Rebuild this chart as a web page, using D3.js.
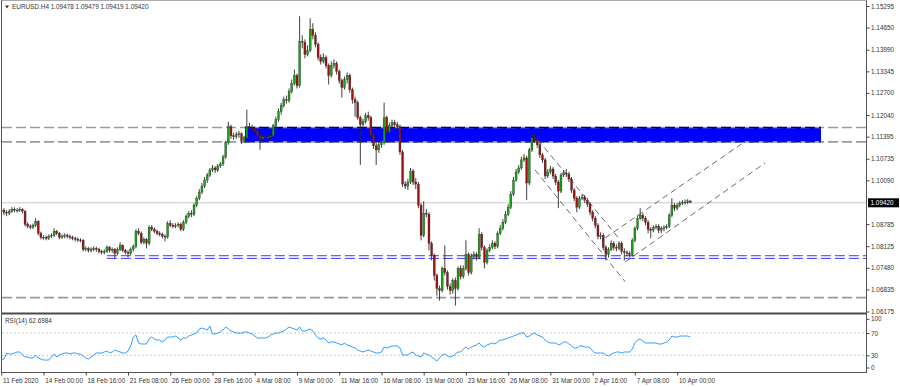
<!DOCTYPE html>
<html><head><meta charset="utf-8">
<script src="https://cdn.jsdelivr.net/npm/d3@7"></script>
<style>body{margin:0;background:#fff}svg{display:block}text{font-family:"Liberation Sans",Arial,sans-serif}</style>
</head><body><svg id="c" width="900" height="387"></svg>
<script>
const symbolTitle = "EURUSD.H4";
const lastOHLC = ["1.09478", "1.09479", "1.09419", "1.09420"];
const rsiTitle = "RSI(14) 62.6984";
const currentPrice = 1.09420;

const timeLabels = ["11 Feb 2020","14 Feb 00:00","18 Feb 16:00","21 Feb 08:00","26 Feb 00:00","28 Feb 16:00","4 Mar 08:00","9 Mar 00:00","11 Mar 16:00","16 Mar 08:00","19 Mar 00:00","23 Mar 16:00","26 Mar 08:00","31 Mar 00:00","2 Apr 16:00","7 Apr 08:00","10 Apr 00:00"];
const priceTicks = ["1.15295","1.14650","1.13990","1.13345","1.12700","1.12040","1.11395","1.10735","1.10090","1.08785","1.08125","1.07480","1.06835","1.06175"];
const rsiTicks = [100, 70, 30, 0];
const rsiLevels = [70, 30];

const opens = [1.0916,1.0920,
1.0914,1.0911,1.0917,1.0923,1.0920,1.0920,1.0923,1.0917,1.0878,1.0872,
1.0869,1.0875,1.0887,1.0851,1.0839,1.0839,1.0836,1.0842,1.0845,1.0857,
1.0851,1.0839,1.0842,1.0845,1.0842,1.0839,1.0836,1.0833,1.0831,1.0830,
1.0803,1.0806,1.0800,1.0803,1.0806,1.0803,1.0797,1.0794,1.0797,1.0809,
1.0800,1.0803,1.0791,1.0803,1.0815,1.0800,1.0794,1.0791,1.0803,1.0812,
1.0857,1.0851,1.0824,1.0833,1.0821,1.0869,1.0863,1.0857,1.0851,1.0848,
1.0842,1.0840,1.0881,1.0875,1.0872,1.0875,1.0878,1.0863,1.0884,1.0902,
1.0911,1.0908,1.0935,1.0956,1.0974,1.0992,1.1010,1.1025,1.1040,1.1046,
1.1040,1.1052,1.1058,1.1079,1.1121,1.1169,1.1142,1.1139,1.1145,1.1148,
1.1127,1.1136,1.1169,1.1166,1.1163,1.1157,1.1142,1.1133,1.1139,1.1136,
1.1139,1.1142,1.1172,1.1190,1.1214,1.1232,1.1250,1.1247,1.1274,1.1298,
1.1322,1.1292,1.1424,1.1421,1.1385,1.1397,1.1460,1.1442,1.1415,1.1376,
1.1364,1.1376,1.1352,1.1322,1.1352,1.1358,1.1334,1.1307,1.1286,1.1310,
1.1322,1.1280,1.1250,1.1241,1.1196,1.1175,1.1184,1.1202,1.1196,1.1145,
1.1112,1.1100,1.1115,1.1121,1.1196,1.1154,1.1172,1.1181,1.1175,1.1169,
1.1094,1.0998,1.0992,1.1004,1.1037,1.1004,1.0998,1.0935,1.0845,1.0911,
1.0908,1.0821,1.0785,1.0725,1.0686,1.0680,1.0746,1.0734,1.0692,1.0680,
1.0710,1.0686,1.0746,1.0722,1.0746,1.0788,1.0734,1.0782,1.0788,1.0779,
1.0848,1.0809,1.0764,1.0800,1.0809,1.0821,1.0812,1.0851,1.0866,1.0884,
1.0908,1.0929,1.0968,1.1010,1.1034,1.1046,1.1070,1.1076,1.1001,1.1100,
1.1136,1.1130,1.1115,1.1085,1.1070,1.1022,1.1034,1.1043,1.1022,1.1004,
1.0977,1.1025,1.1031,1.1028,1.1013,1.0980,1.0956,1.0929,1.0956,1.0959,
1.0950,1.0938,1.0914,1.0896,1.0875,1.0842,1.0845,1.0809,1.0788,1.0803,
1.0821,1.0809,1.0806,1.0821,1.0797,1.0794,1.0791,1.0788,1.0830,1.0866,
1.0896,1.0905,1.0896,1.0884,1.0863,1.0860,1.0869,1.0872,1.0860,1.0866,
1.0869,1.0872,1.0905,1.0935,1.0926,1.0935,1.0941,1.0944,1.0944,1.09478];

const closes = [1.0920,
1.0914,1.0911,1.0917,1.0923,1.0920,1.0920,1.0923,1.0917,1.0878,1.0872,
1.0869,1.0875,1.0887,1.0851,1.0839,1.0839,1.0836,1.0842,1.0845,1.0857,
1.0851,1.0839,1.0842,1.0845,1.0842,1.0839,1.0836,1.0833,1.0831,1.0830,
1.0803,1.0806,1.0800,1.0803,1.0806,1.0803,1.0797,1.0794,1.0797,1.0809,
1.0800,1.0803,1.0791,1.0803,1.0815,1.0800,1.0794,1.0791,1.0803,1.0812,
1.0857,1.0851,1.0824,1.0833,1.0821,1.0869,1.0863,1.0857,1.0851,1.0848,
1.0842,1.0840,1.0881,1.0875,1.0872,1.0875,1.0878,1.0863,1.0884,1.0902,
1.0911,1.0908,1.0935,1.0956,1.0974,1.0992,1.1010,1.1025,1.1040,1.1046,
1.1040,1.1052,1.1058,1.1079,1.1121,1.1169,1.1142,1.1139,1.1145,1.1148,
1.1127,1.1136,1.1169,1.1166,1.1163,1.1157,1.1142,1.1133,1.1139,1.1136,
1.1139,1.1142,1.1172,1.1190,1.1214,1.1232,1.1250,1.1247,1.1274,1.1298,
1.1322,1.1292,1.1424,1.1421,1.1385,1.1397,1.1460,1.1442,1.1415,1.1376,
1.1364,1.1376,1.1352,1.1322,1.1352,1.1358,1.1334,1.1307,1.1286,1.1310,
1.1322,1.1280,1.1250,1.1241,1.1196,1.1175,1.1184,1.1202,1.1196,1.1145,
1.1112,1.1100,1.1115,1.1121,1.1196,1.1154,1.1172,1.1181,1.1175,1.1169,
1.1094,1.0998,1.0992,1.1004,1.1037,1.1004,1.0998,1.0935,1.0845,1.0911,
1.0908,1.0821,1.0785,1.0725,1.0686,1.0680,1.0746,1.0734,1.0692,1.0680,
1.0710,1.0686,1.0746,1.0722,1.0746,1.0788,1.0734,1.0782,1.0788,1.0779,
1.0848,1.0809,1.0764,1.0800,1.0809,1.0821,1.0812,1.0851,1.0866,1.0884,
1.0908,1.0929,1.0968,1.1010,1.1034,1.1046,1.1070,1.1076,1.1001,1.1100,
1.1136,1.1130,1.1115,1.1085,1.1070,1.1022,1.1034,1.1043,1.1022,1.1004,
1.0977,1.1025,1.1031,1.1028,1.1013,1.0980,1.0956,1.0929,1.0956,1.0959,
1.0950,1.0938,1.0914,1.0896,1.0875,1.0842,1.0845,1.0809,1.0788,1.0803,
1.0821,1.0809,1.0806,1.0821,1.0797,1.0794,1.0791,1.0788,1.0830,1.0866,
1.0896,1.0905,1.0896,1.0884,1.0863,1.0860,1.0869,1.0872,1.0860,1.0866,
1.0869,1.0872,1.0905,1.0935,1.0926,1.0935,1.0941,1.0944,1.0944,1.09478,
1.09420];

const highs = [1.0925,
1.0926,1.0920,1.0923,1.0929,1.0928,1.0926,1.0929,1.0926,1.0920,1.0884,
1.0878,1.0880,1.0896,1.0890,1.0856,1.0845,1.0844,1.0848,1.0851,1.0866,
1.0861,1.0855,1.0848,1.0851,1.0850,1.0847,1.0844,1.0841,1.0839,1.0836,
1.0834,1.0812,1.0810,1.0809,1.0812,1.0811,1.0808,1.0802,1.0803,1.0815,
1.0813,1.0809,1.0807,1.0809,1.0824,1.0818,1.0804,1.0800,1.0809,1.0818,
1.0863,1.0866,1.0856,1.0839,1.0837,1.0875,1.0876,1.0868,1.0862,1.0857,
1.0853,1.0848,1.0887,1.0890,1.0881,1.0881,1.0884,1.0883,1.0890,1.0908,
1.0917,1.0920,1.0941,1.0962,1.0983,1.1001,1.1019,1.1031,1.1046,1.1055,
1.1052,1.1058,1.1064,1.1085,1.1127,1.1184,1.1175,1.1151,1.1154,1.1157,
1.1152,1.1142,1.1220,1.1181,1.1175,1.1169,1.1163,1.1148,1.1145,1.1145,
1.1145,1.1148,1.1178,1.1199,1.1223,1.1241,1.1259,1.1262,1.1283,1.1310,
1.1340,1.1328,1.1499,1.1442,1.1430,1.1412,1.1493,1.1478,1.1451,1.1421,
1.1385,1.1388,1.1382,1.1358,1.1364,1.1370,1.1364,1.1340,1.1313,1.1319,
1.1331,1.1328,1.1286,1.1259,1.1247,1.1202,1.1193,1.1211,1.1214,1.1202,
1.1151,1.1121,1.1124,1.1130,1.1241,1.1202,1.1181,1.1190,1.1190,1.1184,
1.1175,1.1100,1.1007,1.1013,1.1046,1.1043,1.1016,1.1004,1.0941,1.0947,
1.0923,1.0914,1.0827,1.0791,1.0731,1.0695,1.0752,1.0815,1.0740,1.0701,
1.0716,1.0719,1.0752,1.0755,1.0755,1.0830,1.0794,1.0791,1.0797,1.0794,
1.0866,1.0854,1.0815,1.0806,1.0818,1.0830,1.0827,1.0857,1.0875,1.0893,
1.0917,1.0938,1.0977,1.1019,1.1043,1.1055,1.1079,1.1088,1.1082,1.1106,
1.1151,1.1148,1.1136,1.1121,1.1091,1.1076,1.1043,1.1052,1.1049,1.1028,
1.1010,1.1031,1.1040,1.1043,1.1034,1.1019,1.0986,1.0962,1.0962,1.0968,
1.0965,1.0956,1.0944,1.0920,1.0902,1.0881,1.0854,1.0851,1.0815,1.0809,
1.0830,1.0827,1.0818,1.0827,1.0827,1.0806,1.0800,1.0797,1.0836,1.0872,
1.0905,1.0926,1.0911,1.0902,1.0890,1.0869,1.0875,1.0878,1.0878,1.0872,
1.0875,1.0878,1.0911,1.0956,1.0941,1.0941,1.0947,1.0950,1.0952,1.0953,
1.09479];

const lows = [1.0911,
1.0905,1.0902,1.0905,1.0912,1.0914,1.0913,1.0915,1.0910,1.0872,1.0866,
1.0863,1.0864,1.0870,1.0845,1.0833,1.0832,1.0830,1.0831,1.0837,1.0840,
1.0845,1.0833,1.0834,1.0836,1.0836,1.0833,1.0830,1.0827,1.0825,1.0824,
1.0797,1.0797,1.0794,1.0794,1.0797,1.0796,1.0791,1.0788,1.0788,1.0792,
1.0794,1.0793,1.0776,1.0785,1.0798,1.0794,1.0788,1.0779,1.0786,1.0797,
1.0806,1.0845,1.0818,1.0818,1.0806,1.0815,1.0857,1.0851,1.0845,1.0842,
1.0836,1.0827,1.0835,1.0869,1.0866,1.0866,1.0869,1.0857,1.0858,1.0878,
1.0896,1.0899,1.0902,1.0929,1.0950,1.0968,1.0986,1.1001,1.1019,1.1034,
1.1031,1.1034,1.1046,1.1052,1.1073,1.1115,1.1133,1.1130,1.1133,1.1136,
1.1118,1.1121,1.1130,1.1160,1.1157,1.1151,1.1136,1.1100,1.1124,1.1130,
1.1130,1.1133,1.1136,1.1166,1.1184,1.1205,1.1226,1.1238,1.1241,1.1268,
1.1292,1.1283,1.1286,1.1403,1.1373,1.1379,1.1391,1.1430,1.1406,1.1367,
1.1355,1.1358,1.1343,1.1295,1.1316,1.1343,1.1325,1.1298,1.1256,1.1280,
1.1298,1.1271,1.1238,1.1199,1.1190,1.1055,1.1166,1.1178,1.1187,1.1136,
1.1103,1.1055,1.1091,1.1106,1.1115,1.1145,1.1148,1.1166,1.1169,1.1160,
1.1085,1.0989,1.0983,1.0980,1.0998,1.0995,1.0983,1.0926,1.0830,1.0839,
1.0899,1.0800,1.0770,1.0710,1.0665,1.0650,1.0674,1.0725,1.0683,1.0668,
1.0671,1.0635,1.0680,1.0713,1.0716,1.0740,1.0725,1.0728,1.0773,1.0770,
1.0773,1.0800,1.0746,1.0758,1.0794,1.0803,1.0803,1.0806,1.0845,1.0860,
1.0878,1.0902,1.0923,1.0962,1.1004,1.1028,1.1040,1.1064,1.0950,1.0995,
1.1094,1.1121,1.1106,1.1076,1.1061,1.1013,1.1016,1.1028,1.1013,1.0995,
1.0926,1.0971,1.1019,1.1019,1.1004,1.0971,1.0947,1.0914,1.0923,1.0950,
1.0941,1.0929,1.0905,1.0887,1.0866,1.0833,1.0833,1.0800,1.0770,1.0779,
1.0797,1.0800,1.0797,1.0800,1.0788,1.0770,1.0782,1.0779,1.0782,1.0824,
1.0860,1.0890,1.0887,1.0875,1.0851,1.0836,1.0854,1.0863,1.0851,1.0851,
1.0857,1.0863,1.0866,1.0899,1.0917,1.0920,1.0929,1.0935,1.0937,1.0938,
1.09419];

const rsi = [21.5,
23.3,34.1,32.3,32.3,34.1,35.9,35.9,30.5,26.9,26.9,
25.1,25.1,30.5,25.1,23.3,21.5,21.5,21.5,26.9,32.3,
26.9,30.5,32.3,34.1,34.1,32.3,34.1,34.1,32.3,32.3,
28.7,25.1,23.3,26.9,30.5,34.1,34.1,34.1,35.9,37.7,
34.1,35.9,39.5,37.7,35.9,34.1,34.1,37.7,46.7,62.8,
66.4,52.1,50.3,50.3,50.3,59.2,62.8,59.2,57.4,57.4,
53.9,57.4,62.8,62.8,62.8,64.6,61.0,57.4,61.0,61.0,
64.6,66.4,68.2,70.0,77.2,79.0,77.2,75.4,82.6,68.2,
68.2,70.0,71.8,75.4,80.8,77.2,73.6,71.8,70.0,70.0,
70.0,71.8,71.8,70.0,68.2,64.6,61.0,61.0,61.0,61.0,
62.8,66.4,68.2,70.0,70.0,71.8,73.6,77.2,80.8,79.0,
77.2,75.4,80.8,73.6,73.6,75.4,77.2,73.6,66.4,61.0,
59.2,61.0,57.4,52.1,53.9,53.9,52.1,50.3,48.5,52.1,
48.5,46.7,44.9,43.1,39.5,37.7,35.9,37.7,39.5,37.7,
35.9,34.1,34.1,35.9,44.9,43.1,44.9,46.7,46.7,46.7,
43.1,30.5,30.5,30.5,34.1,35.9,30.5,28.7,26.9,34.1,
32.3,30.5,26.9,23.3,19.7,25.1,30.5,32.3,28.7,26.9,
28.7,32.3,35.9,35.9,41.3,44.9,41.3,44.9,46.7,48.5,
52.1,46.7,44.9,48.5,50.3,52.1,50.3,53.9,57.4,57.4,
59.2,61.0,62.8,64.6,66.4,68.2,70.0,70.0,62.8,64.6,
68.2,70.0,66.4,64.6,62.8,57.4,53.9,52.1,52.1,52.1,
48.5,50.3,53.9,53.9,50.3,46.7,43.1,43.1,46.7,46.7,
44.9,44.9,43.1,37.7,34.1,34.1,34.1,34.1,30.5,28.7,
32.3,34.1,35.9,35.9,34.1,35.9,35.9,35.9,41.3,52.1,
57.4,59.2,55.6,52.1,52.1,52.1,52.1,52.1,50.3,50.3,
52.1,53.9,57.4,64.6,62.8,62.8,64.6,64.6,64.6,64.6,
62.7];

// drawn objects (bar index, price)
const zoneRect = {from: 92.3, to: 310.5, top: 1.1167, bottom: 1.1124};
const grayLevels = [1.1167, 1.1124, 1.0659];
const blueLevels = {from: 40.0, prices: [1.0784, 1.0776]};
const trendLines = [
  [[203.3, 1.1130], [234.4, 1.0831]],
  [[202.2, 1.1040], [236.3, 1.07065]],
  [[228.7, 1.0837], [280.9, 1.11205]],
  [[236.3, 1.07653], [289.3, 1.10609]]
];

const svg = d3.select("#c");
const FONT = 6.4;
const N = closes.length;
const x = d3.scaleLinear().domain([0, 261]).range([1.3, 1.3 + 261 * 2.64]);
const y = d3.scaleLinear().domain([1.06175, 1.15295]).range([311.5, 6]);
const yr = d3.scaleLinear().domain([0, 100]).range([372, 316.3]);
const RIGHT = 866;

svg.append("rect").attr("width", 900).attr("height", 387).attr("fill", "#fff");
const defs = svg.append("defs");
defs.append("clipPath").attr("id", "cm").append("rect").attr("x", 2).attr("y", 1).attr("width", RIGHT - 2).attr("height", 311.5);
defs.append("clipPath").attr("id", "cr").append("rect").attr("x", 2).attr("y", 315).attr("width", RIGHT - 2).attr("height", 57);

const gm = svg.append("g").attr("clip-path", "url(#cm)");

// current price line
gm.append("line").attr("x1", 2).attr("x2", RIGHT).attr("y1", y(currentPrice)).attr("y2", y(currentPrice))
  .attr("stroke", "#c8c8c8").attr("stroke-width", 1);

// zone rect
gm.append("rect").attr("x", x(zoneRect.from)).attr("width", x(zoneRect.to) - x(zoneRect.from))
  .attr("y", y(zoneRect.top)).attr("height", y(zoneRect.bottom) - y(zoneRect.top)).attr("fill", "#0000ff");

// gray dashed levels
grayLevels.forEach(p => {
  gm.append("line").attr("x1", 2).attr("x2", RIGHT).attr("y1", y(p)).attr("y2", y(p))
    .attr("stroke", "#9a9a9a").attr("stroke-width", 1.6).attr("stroke-dasharray", "10,4");
});
// darker dashes where levels cross the zone
[zoneRect.top, zoneRect.bottom].forEach(p => {
  gm.append("line").attr("x1", x(zoneRect.from)).attr("x2", x(zoneRect.to)).attr("y1", y(p)).attr("y2", y(p))
    .attr("stroke", "#00007a").attr("stroke-width", 1.4).attr("stroke-dasharray", "10,4");
});

// blue dashed levels
blueLevels.prices.forEach(p => {
  gm.append("line").attr("x1", x(blueLevels.from)).attr("x2", RIGHT).attr("y1", y(p)).attr("y2", y(p))
    .attr("stroke", "#3a3aff").attr("stroke-width", 1).attr("stroke-dasharray", "10,4");
});

// trend lines
trendLines.forEach(l => {
  gm.append("line").attr("x1", x(l[0][0])).attr("y1", y(l[0][1])).attr("x2", x(l[1][0])).attr("y2", y(l[1][1]))
    .attr("stroke", "#444").attr("stroke-width", 0.8).attr("stroke-dasharray", "6,4");
});

// candles
const bars = d3.range(N).map(i => ({i, o: opens[i], h: highs[i], l: lows[i], c: closes[i]}));
gm.selectAll("line.wick").data(bars).join("line").attr("class", "wick")
  .attr("x1", d => x(d.i)).attr("x2", d => x(d.i)).attr("y1", d => y(d.h)).attr("y2", d => y(d.l))
  .attr("stroke", "#2a2a2a").attr("stroke-width", 0.9);
gm.selectAll("rect.body").data(bars).join("rect").attr("class", "body")
  .attr("x", d => x(d.i) - 1).attr("width", 2)
  .attr("y", d => y(Math.max(d.o, d.c)))
  .attr("height", d => Math.max(0.8, Math.abs(y(d.o) - y(d.c))))
  .attr("fill", d => d.c >= d.o ? "#17a317" : "#a01212")
  .attr("stroke", "#222").attr("stroke-width", 0.3);

// RSI panel
const gr = svg.append("g").attr("clip-path", "url(#cr)");
rsiLevels.forEach(v => {
  gr.append("line").attr("x1", 2).attr("x2", RIGHT).attr("y1", yr(v)).attr("y2", yr(v))
    .attr("stroke", "#bdbdbd").attr("stroke-width", 0.8).attr("stroke-dasharray", "2,2");
});
gr.append("path").datum(rsi)
  .attr("d", d3.line().x((d, i) => x(i)).y(d => yr(d)))
  .attr("fill", "none").attr("stroke", "#1e90ff").attr("stroke-width", 0.9);

// frames
const frame = svg.append("g").attr("stroke", "#555").attr("fill", "none");
frame.append("line").attr("x1", 1.5).attr("x2", 1.5).attr("y1", 0).attr("y2", 373);
frame.append("line").attr("x1", RIGHT + 0.5).attr("x2", RIGHT + 0.5).attr("y1", 0).attr("y2", 373);
frame.append("line").attr("x1", 1.5).attr("x2", RIGHT + 0.5).attr("y1", 0.5).attr("y2", 0.5).attr("stroke", "#aaa");
frame.append("line").attr("x1", 1.5).attr("x2", RIGHT + 0.5).attr("y1", 313.5).attr("y2", 313.5).attr("stroke-width", 2.2).attr("stroke", "#4a4a4a");
frame.append("line").attr("x1", 1.5).attr("x2", RIGHT + 0.5).attr("y1", 372.5).attr("y2", 372.5);

// price axis
const pa = svg.append("g").attr("transform", `translate(${RIGHT + 0.5},0)`)
  .call(d3.axisRight(y).tickValues(priceTicks.map(Number)).tickFormat((d, i) => priceTicks[i]).tickSize(3).tickPadding(1.5));
pa.select(".domain").remove();
pa.selectAll("line").attr("stroke", "#444");
pa.selectAll("text").attr("font-size", FONT).attr("fill", "#333").attr("font-family", "Liberation Sans, Arial, sans-serif");

// current price label
const cp = svg.append("g");
cp.append("rect").attr("x", RIGHT + 2).attr("y", y(currentPrice) - 4.5).attr("width", 31).attr("height", 9).attr("fill", "#000");
cp.append("text").attr("x", RIGHT + 4.5).attr("y", y(currentPrice)).attr("dy", "0.33em").attr("font-size", FONT)
  .attr("fill", "#fff").text(currentPrice.toFixed(5));

// rsi axis
const ra = svg.append("g").attr("transform", `translate(${RIGHT + 0.5},0)`)
  .call(d3.axisRight(yr).tickValues(rsiTicks).tickFormat(d => d).tickSize(3).tickPadding(1.5));
ra.select(".domain").remove();
ra.selectAll("line").attr("stroke", "#444");
ra.selectAll("text").attr("font-size", FONT).attr("fill", "#333").attr("font-family", "Liberation Sans, Arial, sans-serif");
ra.selectAll(".tick").filter(d => d === 100).attr("transform", `translate(0,${yr(100) + 3})`);
ra.selectAll(".tick").filter(d => d === 0).attr("transform", `translate(0,${yr(0) - 4})`);

// time axis
const ta = svg.append("g").attr("transform", "translate(0,372.5)")
  .call(d3.axisBottom(x).tickValues(timeLabels.map((t, k) => k * 16)).tickFormat((d, k) => timeLabels[k]).tickSize(3).tickPadding(2.5));
ta.select(".domain").remove();
ta.selectAll("line").attr("stroke", "#444");
ta.selectAll("text").attr("font-size", FONT).attr("fill", "#333").attr("text-anchor", "start").attr("dx", "0.2em")
  .attr("font-family", "Liberation Sans, Arial, sans-serif");

// titles
svg.append("path").attr("d", "M5,5.5 L9,5.5 L7,8.5 Z").attr("fill", "#333");
svg.append("text").attr("x", 12).attr("y", 9).attr("font-size", FONT).attr("fill", "#333")
  .text(symbolTitle + "  " + lastOHLC.join(" "));
svg.append("text").attr("x", 5).attr("y", 322.5).attr("font-size", FONT).attr("fill", "#333").text(rsiTitle);
</script></body></html>
